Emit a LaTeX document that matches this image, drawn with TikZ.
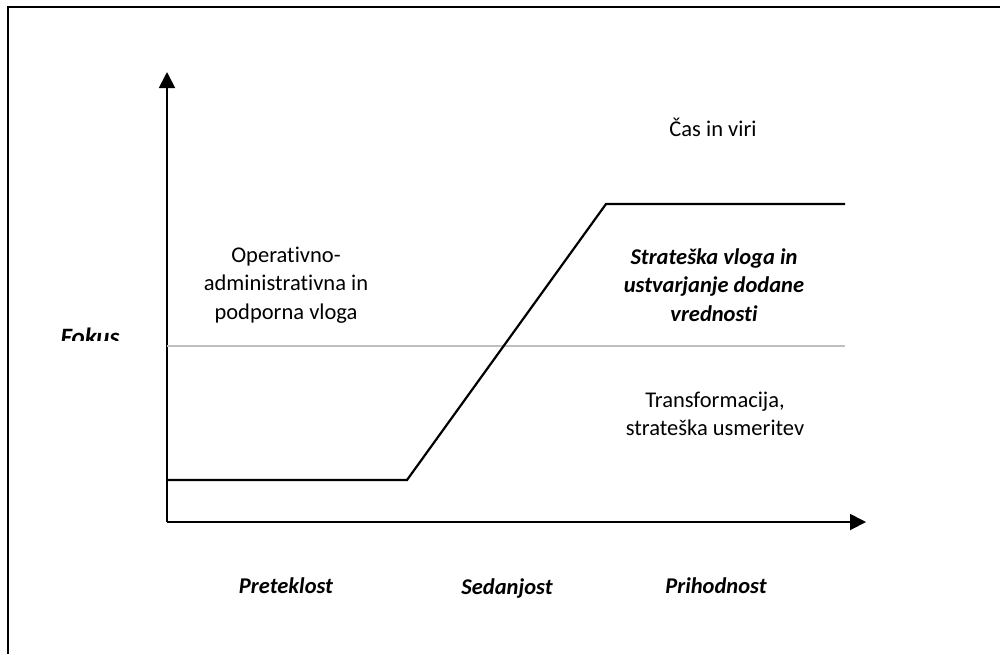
\documentclass[tikz,border=0pt]{standalone}
\usepackage{fontspec}
\setmainfont{Carlito}[RawFeature={-liga}]
\usetikzlibrary{arrows.meta}
\definecolor{divider}{HTML}{BFBFBF}
\tikzset{
  axis/.style={line width=1.8pt, -{Triangle[length=16pt,width=16pt]}},
  frameline/.style={line width=2pt},
  trend/.style={line width=2.2pt, line join=miter},
  split/.style={line width=1.8pt, draw=divider},
  lbl/.style={align=center, font=\fontsize{22.5}{28.5}\selectfont, inner sep=0pt},
  blbl/.style={lbl, font=\fontsize{22.5}{28.5}\selectfont\bfseries\itshape},
}
\begin{document}
\begin{tikzpicture}[x=1pt,y=-1pt]
\useasboundingbox (0,0) rectangle (1000,654);
% open frame: top and left edges only
\draw[frameline] (8,654) -- (8,7) -- (1000,7);

% axes
\coordinate (O) at (167,522);
\coordinate (ytip) at (167,72);
\coordinate (xtip) at (866,522);
\draw[axis] (O) -- (ytip);
\draw[axis] (O) -- (xtip);

% divider between the two roles
\coordinate (d1) at (167,346);
\coordinate (d2) at (845,346);
\draw[split] (d1) -- (d2);

% trend line
\coordinate (t1) at (167,480);
\coordinate (t2) at (407,480);
\coordinate (t3) at (606,204);
\coordinate (t4) at (845,204);
\draw[trend] (t1) -- (t2) -- (t3) -- (t4);

% axis label, cut off at its lower edge
\begin{scope}
  \clip (40,300) rectangle (160,340);
  \node[blbl, anchor=base, font=\fontsize{25}{28.5}\selectfont\bfseries\itshape] (fokus) at (90,345) {Fokus};
\end{scope}

% texts
\node[lbl] (cas) at (713,127) {Čas in viri};
\node[lbl] (oper) at (286,285) {Operativno-\\administrativna in\\podporna vloga};
\node[blbl] (strat) at (714,285) {Strateška vloga in\\ustvarjanje dodane\\vrednosti};
\node[lbl] (trans) at (715,414) {Transformacija,\\strateška usmeritev};

% time periods along the horizontal axis
\node[blbl, anchor=base] (past) at (286,593) {Preteklost};
\node[blbl, anchor=base] (now) at (507,594) {Sedanjost};
\node[blbl, anchor=base] (future) at (716,593) {Prihodnost};
\end{tikzpicture}
\end{document}
